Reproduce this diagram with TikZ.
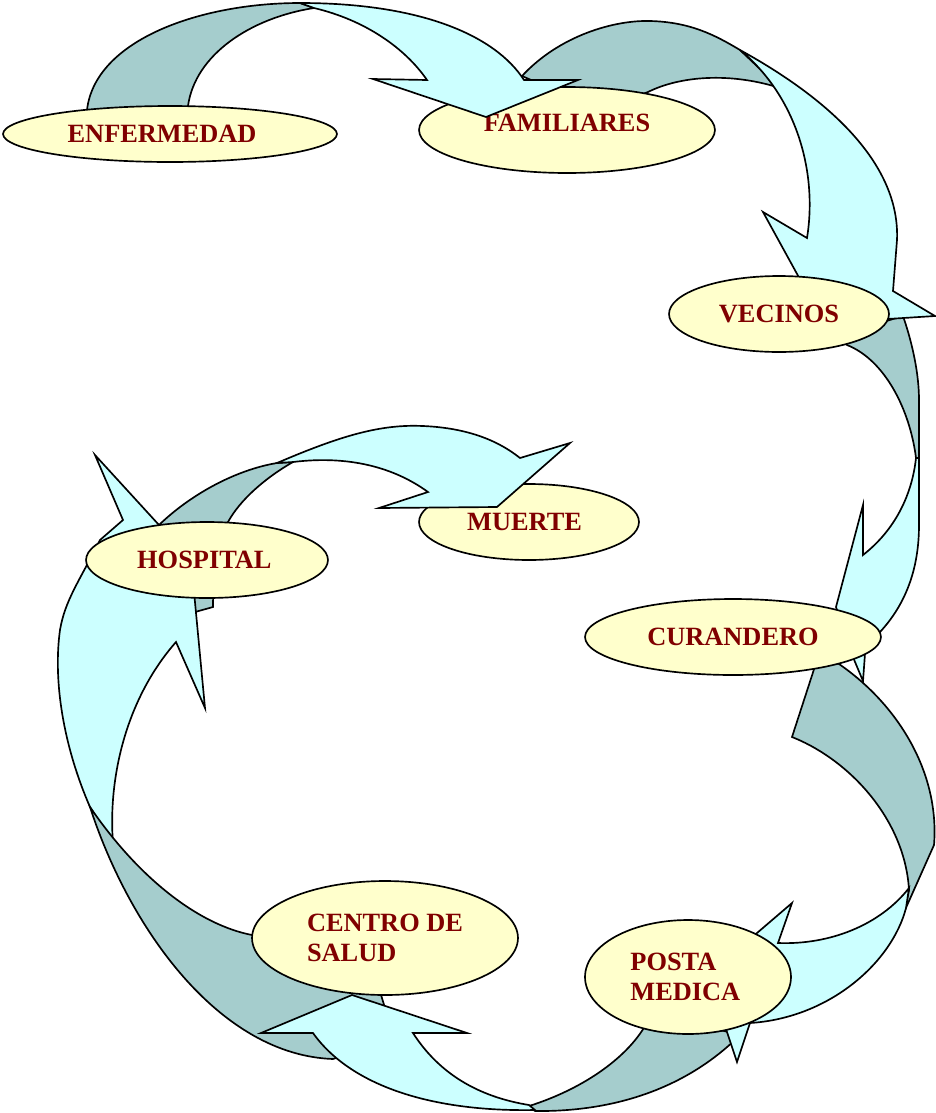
\documentclass[tikz,border=0pt]{standalone}
\usepackage{fontspec}
\setmainfont{Liberation Serif}
\usetikzlibrary{shapes.geometric}

\definecolor{bandback}{HTML}{A5CDCD}
\definecolor{bandfront}{HTML}{CCFFFF}
\definecolor{stagefill}{HTML}{FFFFCC}
\definecolor{stagetext}{HTML}{800000}

\begin{document}
\begin{tikzpicture}[x=0.02cm,y=-0.02cm,line width=0.95pt,
  stage/.style={draw, ellipse, fill=stagefill, inner sep=0pt, align=left,
    text=stagetext, font=\bfseries\fontsize{15}{17}\selectfont},
  back/.style={draw, fill=bandback},
  front/.style={draw, fill=bandfront}]
  \useasboundingbox (0,0) rectangle (936,1113);

  % hospital -> muerte, tail behind the hospital
  \draw[back] (159,525) .. controls (190,495) and (235,470) .. (277,463) -- (293,462)
    .. controls (265,478) and (240,500) .. (228,522) .. controls (218,545) and (213,575) .. (213,607)
    -- (195,612) -- (185,560) -- cycle;

  % centro de salud -> hospital
  \draw[front] (90,807) .. controls (63,745) and (53,680) .. (60,630) .. controls (65,600) and (80,580) .. (100,540)
    -- (123,520) -- (95,455) -- (191,560) -- (205,708) -- (176,642)
    .. controls (125,700) and (108,780) .. (113,843) -- cycle;
  \draw[back] (252,935) .. controls (200,925) and (140,880) .. (90,807)
    .. controls (130,930) and (220,1055) .. (333,1059) -- (375,1045) -- (385,1008) -- (378,985) -- cycle;

  % posta medica -> centro de salud
  \draw[back] (529,1106) .. controls (580,1090) and (625,1060) .. (645,1026) -- (700,1025) -- (740,1035)
    .. controls (690,1085) and (620,1112) .. (535,1111) -- cycle;
  \draw[front] (535,1110) .. controls (430,1112) and (350,1085) .. (313,1033) -- (261,1033) -- (352,995)
    -- (467,1033) -- (413,1033) .. controls (440,1075) and (480,1097) .. (529,1105) -- cycle;

  % curandero -> posta medica
  \draw[back] (817,660) -- (792,737) .. controls (850,760) and (905,820) .. (909,890) -- (905,910)
    -- (934,845) .. controls (940,770) and (895,700) .. (833,660) -- cycle;
  \draw[front] (909,888) .. controls (880,925) and (830,945) .. (778,943) -- (792,903) -- (708,975)
    -- (737,1062) -- (750,1023) .. controls (830,1018) and (892,962) .. (906,908) -- cycle;

  % vecinos -> curandero
  \draw[back] (840,335) -- (903,316) .. controls (913,345) and (919,375) .. (919,400) -- (919,458) -- (916,458)
    .. controls (910,410) and (885,360) .. (847,345) -- cycle;
  \draw[front] (916,458) -- (919,458) -- (919,525) .. controls (919,570) and (905,605) .. (880,632)
    -- (866,640) -- (863,681) -- (850,650) -- (836,607) -- (863,505) -- (863,555)
    .. controls (895,530) and (912,495) .. (916,458) -- cycle;

  % familiares -> vecinos
  \draw[back] (600,110) -- (522,76) .. controls (560,35) and (615,20) .. (650,21)
    .. controls (690,22) and (715,35) .. (740,50) -- (780,88)
    .. controls (730,72) and (680,76) .. (648,92) -- cycle;
  \draw[front] (740,50) .. controls (840,105) and (900,170) .. (897,240) -- (893,291) -- (935,316)
    -- (824,323) -- (763,212) -- (807,238) .. controls (818,170) and (795,95) .. (740,50) -- cycle;

  % enfermedad -> familiares, tail
  \draw[back] (87,115) -- (87,110) .. controls (95,40) and (200,3) .. (300,3) -- (314,8)
    .. controls (250,18) and (195,55) .. (188,106) -- (188,114) -- cycle;

  \node[stage, minimum width=6.68cm, minimum height=1.12cm] (enf) at (170,134) {ENFERMEDAD\kern9pt};
  \node[stage, minimum width=5.92cm, minimum height=1.72cm] (fam) at (567,130) {\raisebox{8pt}{FAMILIARES}};
  \node[stage, minimum width=4.4cm, minimum height=1.52cm] (vec) at (779,314) {VECINOS};
  \node[stage, minimum width=4.4cm, minimum height=1.52cm] (mue) at (529,522) {MUERTE\kern5pt};
  \node[stage, minimum width=4.84cm, minimum height=1.52cm] (hos) at (207,560) {HOSPITAL\kern3pt};
  \node[stage, minimum width=5.92cm, minimum height=1.52cm] (cur) at (733,637) {CURANDERO};
  \node[stage, minimum width=5.32cm, minimum height=2.28cm] (cen) at (385,938) {CENTRO DE\\SALUD};
  \node[stage, minimum width=4.12cm, minimum height=2.28cm] (pos) at (688,977) {POSTA\\MEDICA\kern3pt};

  % heads lying over the ellipses
  \draw[front] (277,463) .. controls (340,436) and (380,424) .. (423,426) .. controls (470,428) and (500,442) .. (520,458)
    -- (570,443) -- (497,507) -- (379,508) -- (428,492) .. controls (395,468) and (350,455) .. (293,462) -- cycle;
  \draw[front] (300,3) .. controls (420,3) and (495,35) .. (524,80) -- (578,80) -- (486,117) -- (373,79)
    -- (427,80) .. controls (405,48) and (365,20) .. (314,8) -- cycle;
\end{tikzpicture}
\end{document}
